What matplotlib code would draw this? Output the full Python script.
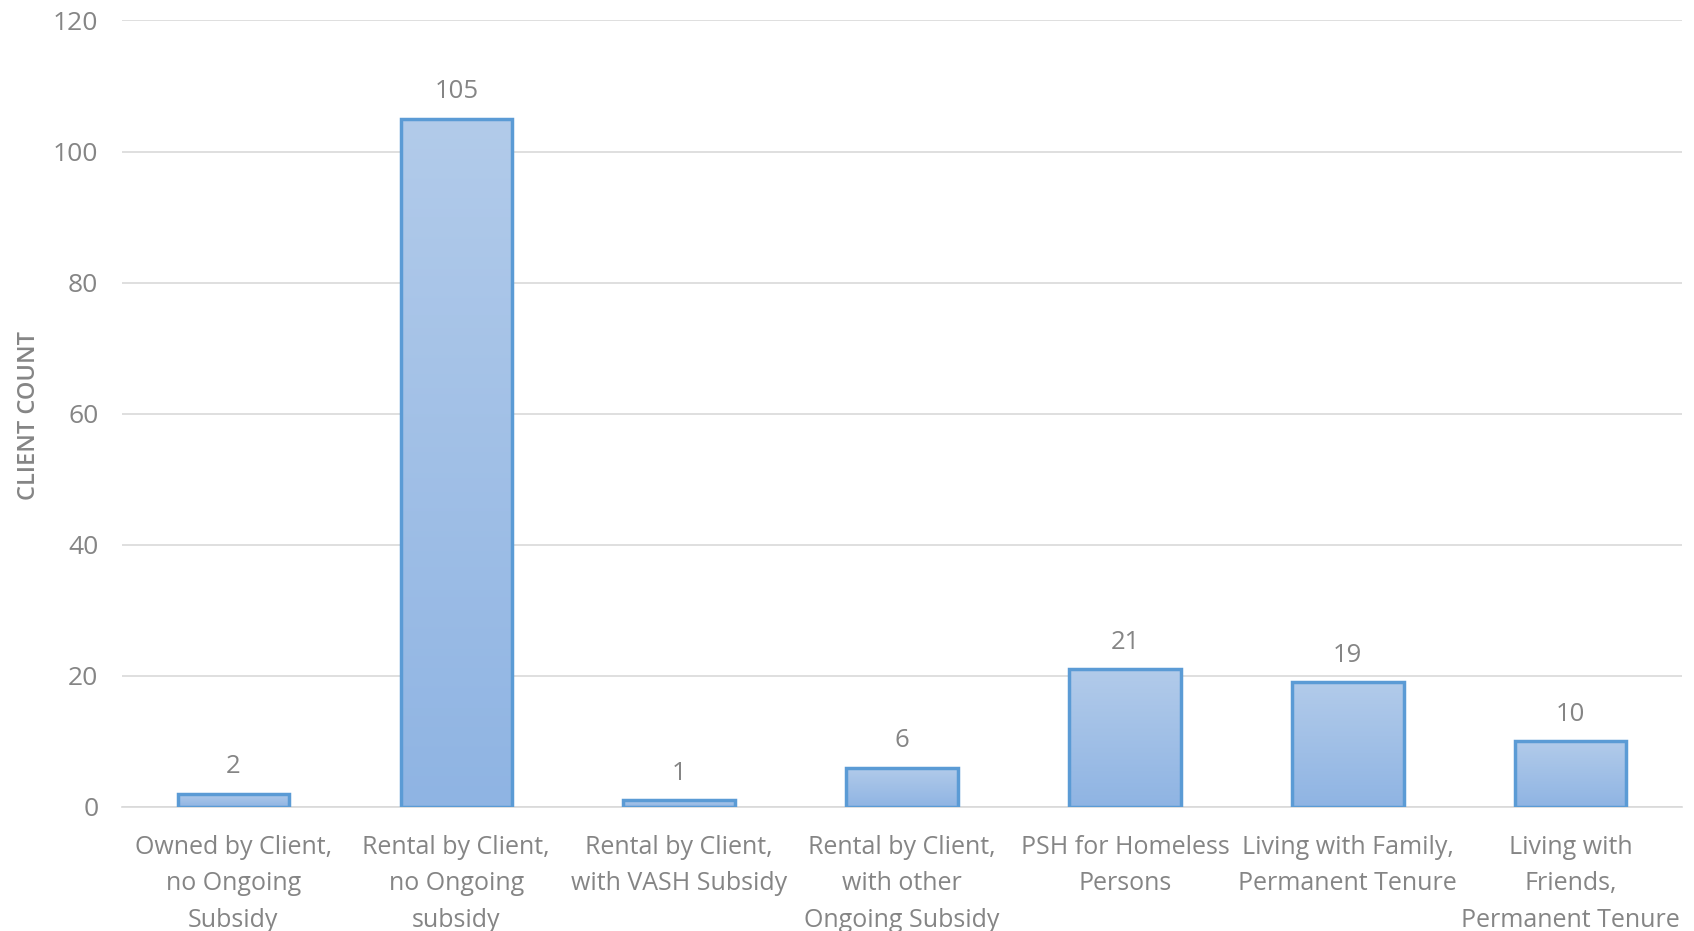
import numpy as np
import matplotlib.pyplot as plt
from matplotlib import font_manager
from matplotlib.colors import LinearSegmentedColormap

categories = ['Owned by Client,\nno Ongoing\nSubsidy',
              'Rental by Client,\nno Ongoing\nsubsidy',
              'Rental by Client,\nwith VASH Subsidy',
              'Rental by Client,\nwith other\nOngoing Subsidy',
              'PSH for Homeless\nPersons',
              'Living with Family,\nPermanent Tenure',
              'Living with\nFriends,\nPermanent Tenure']
counts = [2, 105, 1, 6, 21, 19, 10]
yticks = [0, 20, 40, 60, 80, 100, 120]

names = {f.name for f in font_manager.fontManager.ttflist}
fam = [f for f in ['Open Sans', 'DejaVu Sans'] if f in names]
plt.rcParams['font.family'] = fam

txt = '#858585'
fig = plt.figure(figsize=(16.94, 9.31), dpi=100)
ax = fig.add_axes([0.072, 0.1332, 0.921, 0.8448])

x = np.arange(len(counts))
bars = ax.bar(x, counts, width=0.5, color='none', edgecolor='#5b9bd5', linewidth=2.5, zorder=3)

# vertical gradient inside each bar
grad = np.linspace(0, 1, 256).reshape(-1, 1)
cmap = LinearSegmentedColormap.from_list('g', ['#8fb4e3', '#b2cbea'])
for b in bars:
    im = ax.imshow(grad, cmap=cmap, aspect='auto', origin='lower',
                   extent=[b.get_x(), b.get_x() + b.get_width(), 0, b.get_height()], zorder=2)
    im.set_clip_path(b)

for xi, v in zip(x, counts):
    ax.text(xi, v + 2.2, str(v), ha='center', va='bottom', fontsize=18.5, color=txt)

ax.set_xlim(-0.5, len(counts) - 0.5)
ax.set_ylim(0, 120)
ax.set_yticks(yticks)
ax.set_xticks(x)
ax.set_xticklabels(categories, fontsize=18, color=txt, linespacing=1.6)
ax.tick_params(axis='y', labelsize=19, labelcolor=txt, length=0, pad=17)
ax.tick_params(axis='x', length=0, pad=20)
ax.yaxis.grid(True, color='#d9d9d9', linewidth=1.2, zorder=0)
ax.set_axisbelow(True)
for s in ['top', 'right', 'left']:
    ax.spines[s].set_visible(False)
ax.spines['bottom'].set_color('#d9d9d9')
ax.spines['bottom'].set_linewidth(1.2)
ax.set_ylabel('CLIENT COUNT', fontsize=17, color=txt, fontweight='semibold')
ax.yaxis.set_label_coords(-0.0516, 0.498)

fig.savefig('out.png', dpi=100)
